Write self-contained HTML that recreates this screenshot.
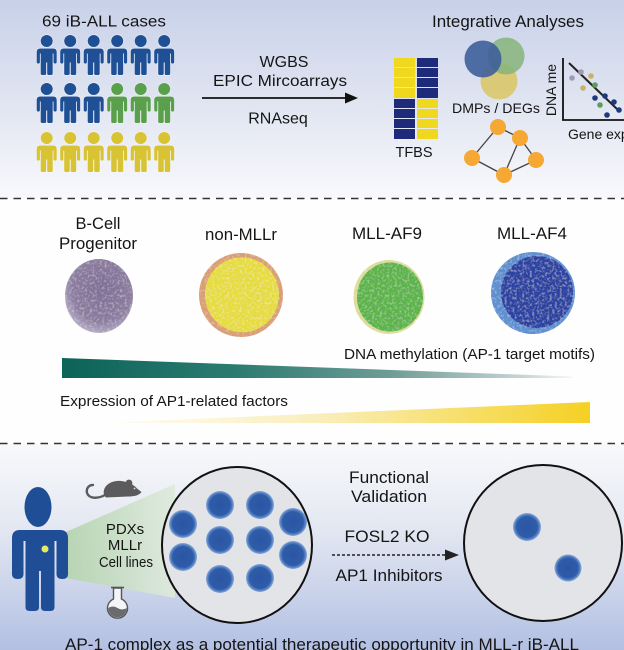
<!DOCTYPE html>
<html><head><meta charset="utf-8"><style>
html,body{margin:0;padding:0;width:624px;height:650px;overflow:hidden;background:#fff}
svg{display:block}
text{font-family:"Liberation Sans",Arial,sans-serif;fill:#151515}
</style></head><body>
<svg width="624" height="650" viewBox="0 0 624 650" xmlns="http://www.w3.org/2000/svg">
<defs>
<linearGradient id="bgTop" x1="0" y1="0" x2="0" y2="1"><stop offset="0" stop-color="#c8d1e9"/><stop offset="0.55" stop-color="#e2e6f2"/><stop offset="1" stop-color="#f8f9fc"/></linearGradient>
<linearGradient id="bgBot" x1="0" y1="0" x2="0" y2="1"><stop offset="0" stop-color="#f8f9fb"/><stop offset="0.4" stop-color="#e4e8f2"/><stop offset="1" stop-color="#b3c0e3"/></linearGradient>
<linearGradient id="teal" gradientUnits="userSpaceOnUse" x1="62" y1="0" x2="572" y2="0"><stop offset="0" stop-color="#0c6357"/><stop offset="0.35" stop-color="#2d7c72"/><stop offset="0.65" stop-color="#6f9d98"/><stop offset="0.9" stop-color="#c5d4d3"/><stop offset="1" stop-color="#f4f6f6"/></linearGradient>
<linearGradient id="yel" gradientUnits="userSpaceOnUse" x1="99" y1="0" x2="590" y2="0"><stop offset="0" stop-color="#fffdf6"/><stop offset="0.45" stop-color="#f9eebb"/><stop offset="0.8" stop-color="#f6dc5a"/><stop offset="1" stop-color="#f5d024"/></linearGradient>
<linearGradient id="cone" gradientUnits="userSpaceOnUse" x1="68" y1="0" x2="175" y2="0"><stop offset="0" stop-color="#b4d4ad"/><stop offset="1" stop-color="#dfeadd"/></linearGradient>
<radialGradient id="gB" cx="0.55" cy="0.4" r="0.6"><stop offset="0" stop-color="#7f6d95"/><stop offset="0.75" stop-color="#8c7da0"/><stop offset="1" stop-color="#b2a8c2"/></radialGradient>
<radialGradient id="sc" cx="0.5" cy="0.5" r="0.5"><stop offset="0" stop-color="#2a55a4"/><stop offset="0.74" stop-color="#2f5ca9"/><stop offset="0.86" stop-color="#4f7cc0"/><stop offset="1" stop-color="#8aaad6"/></radialGradient>
<filter id="tex" x="-10%" y="-10%" width="120%" height="120%"><feTurbulence type="fractalNoise" baseFrequency="0.4" numOctaves="2" seed="4" result="n"/><feColorMatrix in="n" type="matrix" values="0 0 0 0 1 0 0 0 0 1 0 0 0 0 1 0.8 0 0 0 -0.38" result="w"/><feComposite in="w" in2="SourceGraphic" operator="in" result="wc"/><feMerge><feMergeNode in="SourceGraphic"/><feMergeNode in="wc"/></feMerge></filter>
<g id="pp">
<circle cx="10" cy="6" r="6"/>
<path d="M3.5,13.5 H16.5 Q20,13.5 20,17 V27 Q20,28.6 18.4,28.6 Q16.8,28.6 16.8,27 V18.5 H16 V38.8 Q16,40 14.8,40 H11.6 Q10.5,40 10.5,38.8 V27.5 H9.5 V38.8 Q9.5,40 8.4,40 H5.2 Q4,40 4,38.8 V18.5 H3.2 V27 Q3.2,28.6 1.6,28.6 Q0,28.6 0,27 V17 Q0,13.5 3.5,13.5 Z"/>
</g>
</defs>

<!-- backgrounds -->
<rect x="0" y="0" width="624" height="198" fill="url(#bgTop)"/>
<rect x="0" y="198" width="624" height="246" fill="#fefefe"/>
<rect x="0" y="444" width="624" height="206" fill="url(#bgBot)"/>

<!-- ===== Section 1 ===== -->
<text x="42" y="26.5" font-size="15.5" textLength="124" lengthAdjust="spacingAndGlyphs">69 iB-ALL cases</text>

<g stroke="#f4f6fb" stroke-width="1" paint-order="stroke">
<g fill="#1f4f94">
<use href="#pp" x="36.7" y="35"/><use href="#pp" x="60.2" y="35"/><use href="#pp" x="83.7" y="35"/><use href="#pp" x="107.2" y="35"/><use href="#pp" x="130.7" y="35"/><use href="#pp" x="154.2" y="35"/>
<use href="#pp" x="36.7" y="83"/><use href="#pp" x="60.2" y="83"/><use href="#pp" x="83.7" y="83"/>
</g>
<g fill="#5aa04c"><use href="#pp" x="107.2" y="83"/><use href="#pp" x="130.7" y="83"/><use href="#pp" x="154.2" y="83"/></g>
<g fill="#d8c334">
<use href="#pp" x="36.7" y="132"/><use href="#pp" x="60.2" y="132"/><use href="#pp" x="83.7" y="132"/><use href="#pp" x="107.2" y="132"/><use href="#pp" x="130.7" y="132"/><use href="#pp" x="154.2" y="132"/>
</g>
</g>

<text x="284" y="67" font-size="16" text-anchor="middle">WGBS</text>
<text x="280" y="86" font-size="16" text-anchor="middle" textLength="134" lengthAdjust="spacingAndGlyphs">EPIC Mircoarrays</text>
<line x1="202" y1="98" x2="348" y2="98" stroke="#111" stroke-width="1.8"/>
<polygon points="345,92.5 358,98 345,103.5" fill="#111"/>
<text x="278" y="123.5" font-size="16" text-anchor="middle">RNAseq</text>

<text x="508" y="27" font-size="16.5" text-anchor="middle" textLength="152" lengthAdjust="spacingAndGlyphs">Integrative Analyses</text>

<!-- TFBS -->
<g>
<rect x="394" y="58" width="21" height="9" fill="#f0d81e"/><rect x="394" y="68" width="21" height="9" fill="#f0d81e"/><rect x="394" y="78" width="21" height="9" fill="#f0d81e"/><rect x="394" y="88" width="21" height="10" fill="#f0d81e"/>
<rect x="394" y="99" width="21" height="9" fill="#1e2a7a"/><rect x="394" y="109" width="21" height="9" fill="#1e2a7a"/><rect x="394" y="119" width="21" height="9" fill="#1e2a7a"/><rect x="394" y="129" width="21" height="10" fill="#1e2a7a"/>
<rect x="417" y="58" width="21" height="9" fill="#1e2a7a"/><rect x="417" y="68" width="21" height="9" fill="#1e2a7a"/><rect x="417" y="78" width="21" height="9" fill="#1e2a7a"/><rect x="417" y="88" width="21" height="10" fill="#1e2a7a"/>
<rect x="417" y="99" width="21" height="9" fill="#f0d81e"/><rect x="417" y="109" width="21" height="9" fill="#f0d81e"/><rect x="417" y="119" width="21" height="9" fill="#f0d81e"/><rect x="417" y="129" width="21" height="10" fill="#f0d81e"/>
</g>
<text x="414" y="157" font-size="14.5" text-anchor="middle">TFBS</text>

<!-- Venn -->
<circle cx="499" cy="81" r="18.5" fill="#d9c86a" opacity="0.9"/>
<circle cx="506" cy="56" r="18.5" fill="#86b47b" opacity="0.85"/>
<circle cx="483" cy="59" r="18.5" fill="#3a5c9a" opacity="0.88"/>
<text x="496" y="113" font-size="14" text-anchor="middle" textLength="88" lengthAdjust="spacingAndGlyphs">DMPs / DEGs</text>

<!-- network -->
<g stroke="#444" stroke-width="1.3">
<line x1="498" y1="127" x2="472" y2="158"/><line x1="498" y1="127" x2="520" y2="138"/><line x1="520" y1="138" x2="504" y2="175"/><line x1="520" y1="138" x2="536" y2="160"/><line x1="472" y1="158" x2="504" y2="175"/><line x1="504" y1="175" x2="536" y2="160"/>
</g>
<g fill="#f5a834"><circle cx="498" cy="127" r="8"/><circle cx="520" cy="138" r="8"/><circle cx="472" cy="158" r="8"/><circle cx="536" cy="160" r="8"/><circle cx="504" cy="175" r="8"/></g>

<!-- scatter -->
<text transform="translate(556,90) rotate(-90)" font-size="14" text-anchor="middle">DNA me</text>
<polyline points="563,58 563,120 624,120" fill="none" stroke="#111" stroke-width="1.8"/>
<line x1="569" y1="63" x2="617" y2="109" stroke="#222" stroke-width="2"/>
<g>
<circle cx="572" cy="78" r="2.8" fill="#9d9cb2"/><circle cx="581" cy="72" r="2.8" fill="#9d9cb2"/>
<circle cx="591" cy="76" r="2.8" fill="#c9b266"/><circle cx="583" cy="88" r="2.8" fill="#c9b266"/>
<circle cx="595" cy="85" r="2.8" fill="#5c9d5e"/><circle cx="600" cy="105" r="2.8" fill="#5c9d5e"/>
<circle cx="595" cy="98" r="2.8" fill="#1c3a7c"/><circle cx="605" cy="96" r="2.8" fill="#1c3a7c"/><circle cx="614" cy="102" r="2.8" fill="#1c3a7c"/><circle cx="619" cy="110" r="2.8" fill="#1c3a7c"/><circle cx="607" cy="115" r="2.8" fill="#1c3a7c"/>
</g>
<text x="568" y="139" font-size="14">Gene exp</text>

<!-- dashed separators -->
<line x1="0" y1="198.5" x2="624" y2="198.5" stroke="#333" stroke-width="1.6" stroke-dasharray="7.5 6"/>
<line x1="0" y1="443.5" x2="624" y2="443.5" stroke="#333" stroke-width="1.6" stroke-dasharray="7.5 6"/>

<!-- ===== Section 2 ===== -->
<text x="98" y="229" font-size="16.5" text-anchor="middle">B-Cell</text>
<text x="98" y="249" font-size="16.5" text-anchor="middle" textLength="78" lengthAdjust="spacingAndGlyphs">Progenitor</text>
<text x="241" y="240" font-size="16.5" text-anchor="middle" textLength="72" lengthAdjust="spacingAndGlyphs">non-MLLr</text>
<text x="387" y="239" font-size="16.5" text-anchor="middle" textLength="70" lengthAdjust="spacingAndGlyphs">MLL-AF9</text>
<text x="532" y="239" font-size="16.5" text-anchor="middle" textLength="70" lengthAdjust="spacingAndGlyphs">MLL-AF4</text>

<g filter="url(#tex)">
<ellipse cx="99" cy="296" rx="34" ry="37" fill="url(#gB)"/>
<ellipse cx="241" cy="295" rx="42" ry="42" fill="#d99e72" transform="rotate(-12 241 295)"/>
<ellipse cx="242" cy="295" rx="37" ry="37.5" fill="#e6dc3c" transform="rotate(-12 241 295)"/>
<ellipse cx="389" cy="297" rx="35.5" ry="37" fill="#dcdc9a"/>
<ellipse cx="390" cy="297" rx="33" ry="34.5" fill="#5cb44a"/>
<ellipse cx="533" cy="293" rx="42" ry="41" fill="#5b8fcf"/>
<ellipse cx="537" cy="292" rx="36" ry="36" fill="#2c42a2"/>
</g>

<text x="344" y="359" font-size="15" textLength="251" lengthAdjust="spacingAndGlyphs">DNA methylation (AP-1 target motifs)</text>
<polygon points="62,358 572,376.5 572,378 62,378" fill="url(#teal)"/>
<text x="60" y="406" font-size="15" textLength="228" lengthAdjust="spacingAndGlyphs">Expression of AP1-related factors</text>
<polygon points="99,423 590,402 590,423" fill="url(#yel)"/>

<!-- ===== Section 3 ===== -->
<polygon points="66,532 175,484 175,598 66,578" fill="url(#cone)" opacity="0.9"/>
<ellipse cx="38" cy="507" rx="13.5" ry="20" fill="#1f4e96"/>
<path d="M20,530 H60 Q68,530 68,538 V574 Q68,579 62.25,579 Q56.5,579 56.5,574 V541 H54.5 V607 Q54.5,611 50.5,611 H45 Q41,611 41,607 V571 H39 V607 Q39,611 35,611 H29.5 Q25.5,611 25.5,607 V541 H23.5 V574 Q23.5,579 17.75,579 Q12,579 12,574 V538 Q12,530 20,530 Z" fill="#1f4e96"/>
<circle cx="45" cy="549" r="3.5" fill="#e6ea62"/>

<!-- mouse -->
<g fill="#5b5b5d">
<path d="M104,495 C102,486 111,480 121,481 C129,482 134,485 137,488.5 L141.5,492 C139,495.5 134,496.5 128,496.5 L106,497.5 Z"/>
<circle cx="129" cy="483" r="3.4"/>
</g>
<path d="M106,494.5 C97,499.5 89,498.5 87,493 C86,488 89,485 93,485" fill="none" stroke="#5b5b5d" stroke-width="2.4" stroke-linecap="round"/>
<circle cx="134.5" cy="488.5" r="0.9" fill="#ddd"/>

<!-- flask -->
<g stroke="#555" stroke-width="1.4" fill="#f4f5f8">
<path d="M113.5,588 V599 A10,10 0 1 0 121.5,599 V588 Z"/>
</g>
<line x1="111" y1="587.5" x2="124" y2="587.5" stroke="#555" stroke-width="1.6"/>
<path d="M108.2,608 Q113,605 117.5,608 Q122,611 126.8,608 A9.3,9.3 0 0 1 108.2,608 Z" fill="#6b6b6e"/>

<text x="125" y="534" font-size="15" text-anchor="middle">PDXs</text>
<text x="125" y="550" font-size="15" text-anchor="middle">MLLr</text>
<text x="126" y="567" font-size="15" text-anchor="middle" textLength="54" lengthAdjust="spacingAndGlyphs">Cell lines</text>

<!-- circle 1 -->
<ellipse cx="237" cy="545" rx="75" ry="78" fill="#e3e4e7" stroke="#111" stroke-width="2"/>
<g fill="url(#sc)">
<circle cx="183" cy="524" r="14"/><circle cx="183" cy="557" r="14"/>
<circle cx="220" cy="505" r="14"/><circle cx="220" cy="540" r="14"/><circle cx="220" cy="579" r="14"/>
<circle cx="260" cy="505" r="14"/><circle cx="260" cy="540" r="14"/><circle cx="260" cy="578" r="14"/>
<circle cx="293" cy="522" r="14"/><circle cx="293" cy="555" r="14"/>
</g>

<text x="389" y="483" font-size="17" text-anchor="middle" textLength="80" lengthAdjust="spacingAndGlyphs">Functional</text>
<text x="389" y="502" font-size="17" text-anchor="middle" textLength="76" lengthAdjust="spacingAndGlyphs">Validation</text>
<text x="387" y="542" font-size="17" text-anchor="middle" textLength="85" lengthAdjust="spacingAndGlyphs">FOSL2 KO</text>
<line x1="332" y1="555" x2="447" y2="555" stroke="#222" stroke-width="1.6" stroke-dasharray="3 2"/>
<polygon points="445,549.5 459,555 445,560.5" fill="#222"/>
<text x="389" y="581" font-size="17" text-anchor="middle" textLength="107" lengthAdjust="spacingAndGlyphs">AP1 Inhibitors</text>

<!-- circle 2 -->
<ellipse cx="543" cy="543" rx="79" ry="78" fill="#e3e4e7" stroke="#111" stroke-width="2"/>
<circle cx="527" cy="527" r="14" fill="url(#sc)"/>
<circle cx="568" cy="568" r="13.5" fill="url(#sc)"/>

<text x="65" y="650" font-size="16.5" textLength="514" lengthAdjust="spacingAndGlyphs">AP-1 complex as a potential therapeutic opportunity in MLL-r iB-ALL</text>
</svg>
</body></html>
